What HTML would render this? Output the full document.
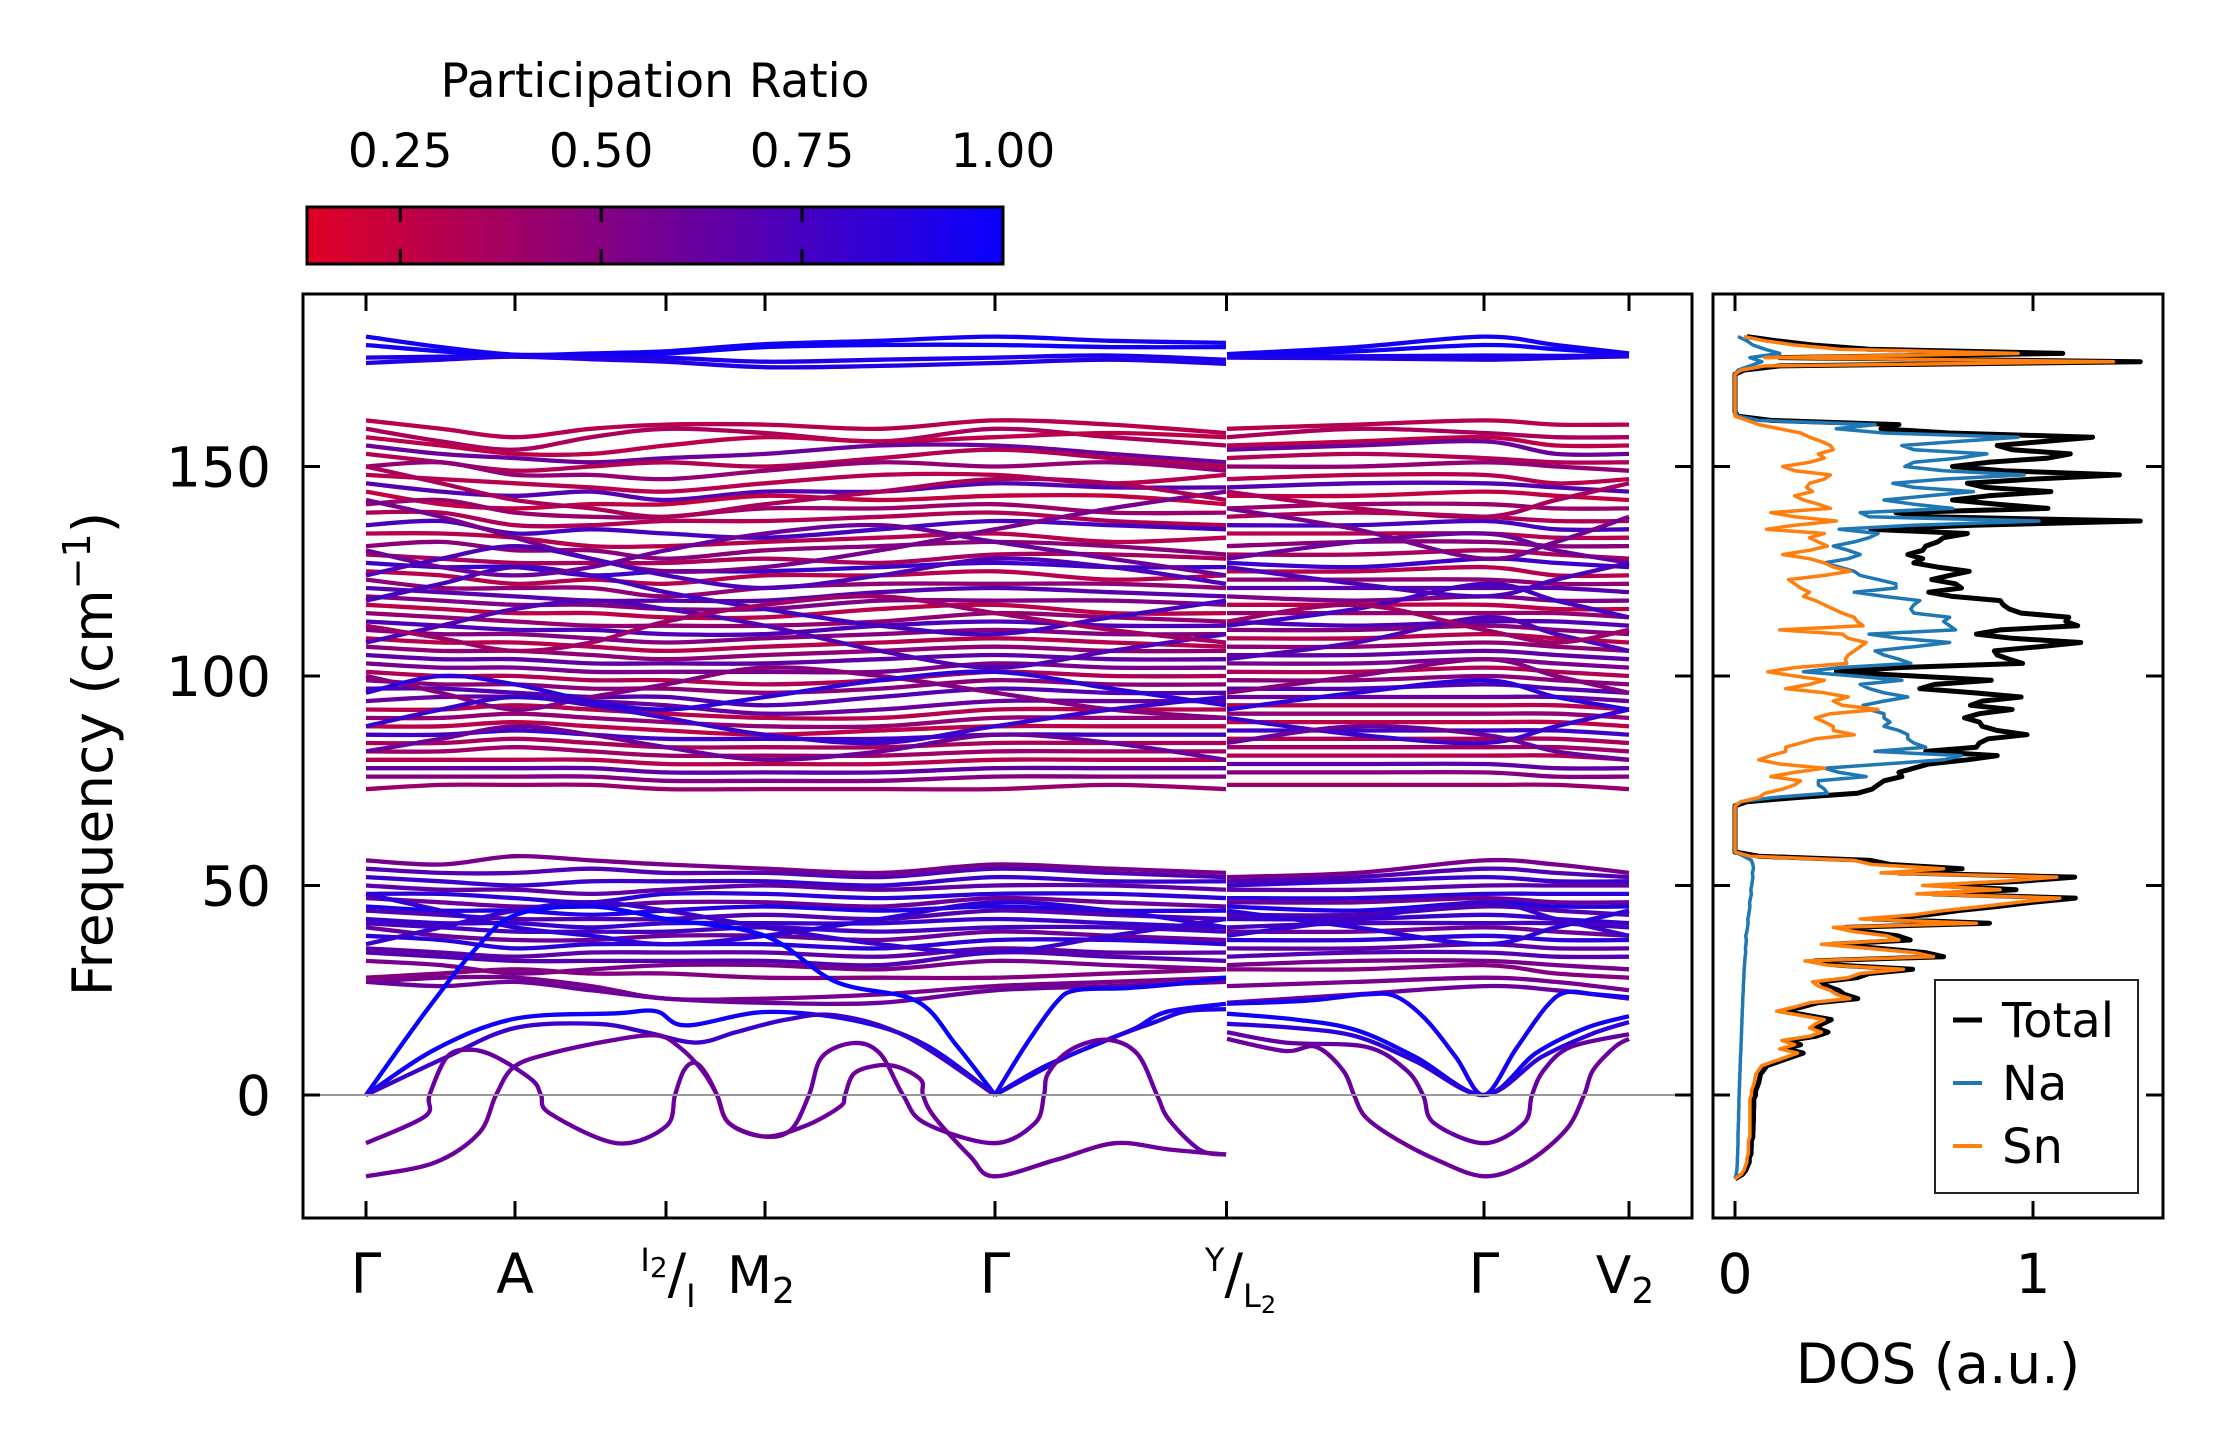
<!DOCTYPE html>
<html><head><meta charset="utf-8"><style>
html,body{margin:0;padding:0;background:#fff;}
svg{display:block;font-family:"DejaVu Sans","Liberation Sans",sans-serif;}
</style></head><body>
<svg id="fig" width="2222" height="1455" viewBox="0 0 2222 1455" xmlns="http://www.w3.org/2000/svg">
<defs>
<linearGradient id="cmap" x1="0" x2="1" y1="0" y2="0">
<stop offset="0" stop-color="rgb(224,0,36)"/><stop offset="1" stop-color="rgb(8,0,255)"/>
</linearGradient>
<clipPath id="mainClip"><rect x="303" y="294" width="1389" height="924"/></clipPath>
<clipPath id="dosClip"><rect x="1713" y="294" width="450" height="924"/></clipPath>
</defs>
<g>
<text x="655" y="97" font-size="47" text-anchor="middle">Participation Ratio</text>
<rect x="307" y="207" width="696" height="57" fill="url(#cmap)" stroke="#000" stroke-width="3"/>
<g id="cbTicks"></g>
</g>
<g id="bands" clip-path="url(#mainClip)"></g>
<line x1="303" y1="1095" x2="1692" y2="1095" stroke="#999" stroke-width="2"/>
<g id="dos" clip-path="url(#dosClip)"></g>
<rect x="303" y="294" width="1389" height="924" fill="none" stroke="#000" stroke-width="3"/>
<rect x="1713" y="294" width="450" height="924" fill="none" stroke="#000" stroke-width="3"/>
<g id="axes"></g>
<text transform="translate(112,754) rotate(-90)" font-size="55" text-anchor="middle">Frequency (cm<tspan font-size="38" dy="-22">−1</tspan><tspan dy="22">)</tspan></text>
<text x="1938" y="1383" font-size="55" text-anchor="middle">DOS (a.u.)</text>
<g>
<rect x="1935" y="980" width="203" height="213" fill="#fff" stroke="#222" stroke-width="2"/>
<line x1="1953" y1="1020" x2="1982" y2="1020" stroke="#000" stroke-width="5"/>
<text x="2002" y="1037" font-size="48">Total</text>
<line x1="1953" y1="1083" x2="1982" y2="1083" stroke="#1f77b4" stroke-width="4"/>
<text x="2002" y="1100" font-size="48">Na</text>
<line x1="1953" y1="1146" x2="1982" y2="1146" stroke="#ff7f0e" stroke-width="4"/>
<text x="2002" y="1163" font-size="48">Sn</text>
</g>
</svg>
<script>
const cbTickValues=[0.25,0.5,0.75,1.0];
const cbTickLabels=["0.25","0.50","0.75","1.00"];
const yTickValues=[0,50,100,150];
const yTickLabels=["0","50","100","150"];
const kTickValues=[0,149,300,399,629,860.5,1118,1263];
const kTickLabels=["Γ","A","I2/I","M2","Γ","Y/L2","Γ","V2"];
const dosTickValues=[0,1];
const dosTickLabels=["0","1"];
const kSeg1=[0,75,149,225,300,399,514,629,745,860];
const kSeg2=[861,990,1118,1190,1263];
const topBands=[
[181,178.5,176.7,177,177.5,179.2,180,181,180,179.5, 176.8,178.5,181,179,177],
[179,177.5,176.5,176.8,177,178.5,179,179,178.5,178.5, 176.5,177.5,179,178,176.8],
[176,176.2,176.3,176.1,176,175,175.5,176,176.5,175.5, 176.2,176.3,176.5,176.4,176.5],
[174.7,175.5,176.2,175.6,175,173.7,174,174.7,175.5,174.5, 176,175.8,175.5,175.9,176.3]];
const topPR=[0.95,0.97,0.92,0.9];
const upperBands=[
[161,159,157,159,160,160,159,161,160,158, 159,160,161,160,160],
[159,156,154,157,159,158,156,159,157,155, 157,159,158,157,157],
[157,155,153,153,155,157,156,157,158,157, 155,156,157,155,155],
[155,153,152,151,152,153,155,155,153,151, 154,155,156,153,153],
[153,151,149,150,151,150,152,154,152,150, 152,153,152,151,151],
[150,151,148,148,147,149,151,150,151,149, 150,150,151,150,149],
[148,147,146,145,144,146,148,148,146,148, 147,148,148,146,147],
[146,144,143,144,142,144,144,146,145,145, 145,146,146,145,144],
[144,141,140,141,141,143,142,143,143,141, 143,143,144,143,142],
[141,142,139,138,138,140,140,141,139,139, 140,141,141,140,140],
[139,139,136,136,137,137,138,139,137,136, 138,139,138,137,137],
[136,137,134,135,134,133,135,137,136,135, 136,136,137,135,135],
[134,134,133,131,131,132,133,134,132,133, 134,134,134,133,133],
[131,132,130,130,128,130,131,132,131,129, 131,132,132,131,131],
[129,128,127,127,127,128,127,129,129,128, 129,129,130,129,128],
[127,126,126,124,125,125,126,127,126,126, 127,126,128,127,126],
[125,124,122,123,122,124,124,125,123,124, 125,125,126,124,124],
[123,121,121,121,119,121,122,122,122,121, 123,123,123,122,122],
[121,120,119,118,118,118,120,121,120,119, 121,121,121,121,120],
[119,118,117,117,116,116,118,118,118,117, 119,118,119,118,118],
[117,116,115,115,114,114,116,117,115,115, 117,117,117,116,116],
[115,114,113,112,112,112,113,115,114,113, 115,115,115,115,114],
[113,112,111,111,110,110,112,113,112,112, 113,112,113,113,112],
[111,110,110,109,108,109,110,111,110,110, 111,111,112,111,110],
[109,108,108,107,106,107,108,109,108,107, 109,109,110,109,108],
[107,106,106,105,104,105,106,107,106,106, 107,107,108,107,106],
[105,104,104,103,103,103,104,105,104,104, 105,105,106,105,104],
[103,102,102,101,101,101,101,103,102,102, 103,103,104,103,102],
[101,100,100,99,99,98,99,101,100,100, 101,101,102,101,100],
[99,98,98,97,97,96,97,99,98,98, 99,99,100,99,98],
[97,97,96,95,95,93,95,97,96,96, 97,97,98,97,96],
[94,95,95,94,93,91,92,94,94,94, 95,95,95,95,94],
[92,92,93,92,91,90,90,92,92,92, 93,93,93,93,92],
[90,90,91,90,89,88,88,90,90,90, 91,91,91,91,90],
[88,88,89,88,87,86,87,88,88,88, 89,89,89,89,88],
[86,86,87,86,85,85,85,86,86,86, 87,87,87,87,86],
[84,84,85,84,83,83,83,84,84,84, 85,85,85,85,84],
[82,82,83,82,81,81,81,82,82,82, 83,83,83,83,82],
[80,80,80,80,79,79,79,80,80,80, 81,81,81,81,80],
[78,78,78,78,77,77,77,78,78,78, 79,79,79,78,78],
[76,76,76,76,75,75,75,76,76,76, 77,77,77,76,76],
[73,74,74,74,73,73,73,73,74,73, 74,74,74,74,73],
[142,138,133,128,125,126,130,135,140,144, 140,135,128,132,138],
[118,122,126,124,120,116,112,110,114,118, 112,116,122,118,114],
[100,96,92,95,98,102,100,96,92,90, 96,100,104,100,96],
[88,92,95,93,90,86,84,88,92,95, 90,86,84,88,92],
[150,146,142,140,138,141,144,147,146,142, 144,140,138,142,146],
[108,112,116,118,116,112,106,102,106,110, 104,108,114,110,106],
[130,126,124,126,130,134,136,132,128,124, 128,132,134,130,127],
[124,128,131,128,124,121,124,128,126,122, 126,122,119,123,127],
[96,100,98,94,92,95,99,101,97,93, 92,96,99,95,92],
[112,109,106,108,113,117,119,115,111,108, 113,117,111,108,111],
[82,85,88,86,83,80,82,86,84,80, 84,88,86,82,80]];
const upperPR=[0.3,0.35,0.28,0.6,0.32,0.45,0.3,0.7,0.25,0.42,0.33,0.75,0.3,0.48,0.36,0.8,0.3,0.45,0.68,0.52,0.28,0.44,0.72,0.5,0.3,0.46,0.65,0.55,0.32,0.48,0.7,0.62,0.3,0.45,0.28,0.78,0.35,0.4,0.3,0.65,0.5,0.42,0.55,0.75,0.5,0.8,0.35,0.7,0.6,0.72,0.85,0.4,0.6];
const midBands=[
[56,55,57,56,55,54,53,55,54,53, 52,53,56,55,53],
[54,53,53,54,53,53,52,54,53,52, 51,52,54,53,52],
[52,51,50,51,51,51,50,52,51,51, 50,51,52,51,51],
[50,49,49,48,49,50,49,50,50,49, 49,49,50,50,50],
[48,48,47,46,48,48,47,48,48,47, 47,47,48,48,48],
[47,46,45,45,46,46,45,47,46,45, 46,46,47,46,46],
[45,44,44,43,44,45,44,45,44,44, 45,44,46,45,45],
[44,43,42,42,42,43,42,44,43,42, 43,43,45,44,43],
[42,41,41,40,41,41,41,42,41,40, 42,42,43,42,41],
[41,40,39,39,39,40,39,40,40,39, 40,41,41,41,40],
[40,38,37,37,38,38,37,39,38,37, 39,39,40,39,38],
[38,37,35,36,36,36,35,37,37,36, 37,37,38,37,37],
[35,34,33,34,34,34,33,35,34,34, 35,35,36,35,35],
[34,33,32,32,32,32,31,34,33,32, 33,34,34,33,33],
[32,31,29,30,31,31,30,32,31,30, 31,32,32,31,30],
[28,29,30,29,29,28,28,28,29,30, 30,30,31,29,28],
[27,28,28,26,23,23,24,26,27,28, 26,27,28,27,25],
[27,26,27,25,23,22,22,25,26,27, 22,24,26,25,23],
[48,44,40,38,36,38,42,46,44,40, 44,40,36,40,44],
[36,40,44,46,44,40,36,34,38,42, 38,42,46,42,38]];
const midPR=[0.55,0.7,0.8,0.65,0.85,0.6,0.9,0.7,0.8,0.75,0.6,0.85,0.65,0.7,0.55,0.5,0.55,0.6,0.85,0.8];
const acoustic1=[[0,0],[60,20],[110,35],[150,43],[225,45],[300,42],[399,38],[470,27],[550,22.5],[590,12],[629,0]];
const acoustic2=[[0,0],[70,11],[149,18.2],[250,19.5],[290,20],[320,16.6],[399,19.8],[488,17.8],[559,12],[629,0]];
const acoustic3=[[0,0],[80,9],[149,16],[230,17],[280,15],[330,12.5],[370,15],[420,18],[470,19],[540,14],[629,0]];
const acoustic4=[[629,0],[660,12],[690,22],[710,25],[760,25.5],[810,26.5],[860,28]];
const acoustic5=[[629,0],[680,7],[740,13],[770,16],[800,19.8],[860,21.8]];
const acoustic6=[[629,0],[700,9],[750,14],[790,17.5],[820,20],[860,20.5]];
const acoustic7=[[861,21.8],[940,22.5],[1000,24],[1030,23.5],[1060,18],[1090,9],[1118,0],[1150,11],[1180,21],[1200,24.5],[1230,24],[1263,23.3]];
const acoustic8=[[861,19.4],[930,18],[990,15.5],[1050,9],[1118,0],[1170,10],[1220,16],[1263,18.8]];
const acoustic9=[[861,17],[930,16],[990,14],[1050,8],[1118,0],[1175,9],[1225,14.5],[1263,17.4]];
const softA=[[0,-11.5],[59,-5.1],[63.5,0],[81,9.1],[104,10.8],[130,9.1],[166,3.6],[175,0],[184,-4.4],[251,-11.5],[300,-7.5],[309,0],[318,5.9],[329,7.7],[340,5.1],[351,0],[363,-6.7],[398,-9.9],[425,-8.3],[443,0],[456,9.1],[488,12.4],[514,9.9],[537,0],[559,-6.7],[628,-11.5],[669,-6.7],[678,0],[682,5.1],[704,10.7],[740,13.2],[771,9.9],[791,0],[803,-5.9],[834,-13.1],[860,-14.2]];
const softB=[[0,-19.4],[68,-16.2],[113,-9.1],[130,0],[148,6.7],[184,9.9],[247,13.1],[291,14.2],[313,11.5],[336,5.9],[351,0],[363,-6.7],[398,-9.9],[438,-7.5],[474,-2.8],[479,0],[488,5.1],[510,7],[532,6.7],[555,3.6],[557,0],[568,-5.1],[604,-14.6],[628,-19.4],[691,-15.4],[749,-11.5],[803,-13],[860,-14.2]];
const softE=[[861,13.4],[919,10.5],[950,11.5],[977,5.9],[988,0],[999,-5.1],[1026,-9.9],[1070,-15.4],[1118,-19.4],[1160,-16.2],[1200,-8.3],[1218,0],[1227,5.9],[1249,11.5],[1263,13.4]];
const softF=[[861,15],[920,12.5],[1000,11.5],[1040,6],[1057,0],[1068,-6.7],[1118,-11.5],[1158,-6.7],[1166,0],[1178,6],[1205,11.5],[1263,14.5]];
const acousticBands=[acoustic1,acoustic2,acoustic3,acoustic4,acoustic5,acoustic6,acoustic7,acoustic8,acoustic9];
const acousticPR=[1,0.97,0.8,0.97,0.95,0.9,0.95,0.97,0.85];
const softBands=[softA,softB,softE,softF];
const softPR=[0.62,0.6,0.6,0.63];
const dosFreqStart=-20;
const dosFreqStep=1;
const dosSn=[0,.02,.03,.035,.04,.04,.045,.045,.045,.045,
.05,.05,.05,.05,.05,.05,.05,.05,.05,.05,
.055,.055,.06,.065,.067,.07,.08,.09,.13,.17,
.21,.15,.2,.157,.25,.29,.25,.27,.30,.22,
.14,.2,.25,.386,.34,.32,.28,.26,.38,.42,
.565,.31,.235,.666,.6,.45,.29,.55,.51,.4,
.33,.81,.42,.6,.7,.83,.95,1.09,.61,.89,
.63,.9,1.08,.49,.70,.46,.4,.05,0,0,
0,0,0,0,0,0,0,0,0,0,
.02,.08,.1,.16,.2,.22,.12,.2,.3,.15,
.08,.12,.17,.17,.22,.27,.4,.33,.33,.3,
.27,.32,.48,.36,.33,.38,.3,.17,.25,.3,
.2,.11,.2,.375,.37,.38,.4,.42,.44,.38,
.36,.15,.43,.41,.4,.36,.33,.3,.27,.23,
.25,.22,.2,.18,.3,.386,.33,.3,.25,.16,
.25,.31,.28,.25,.3,.106,.2,.34,.2,.12,
.32,.28,.23,.2,.26,.24,.25,.3,.32,.2,
.16,.25,.3,.28,.33,.32,.29,.25,.22,.15,
.08,.04,0,0,0,0,0,0,0,0,
0,0,0,.02,.1,1.27,.1,.95,.35,.2,
.1,.03];
const dosNa=[0,.004,.006,.007,.008,.008,.009,.009,.01,.01,
.01,.01,.011,.011,.012,.012,.012,.013,.013,.013,
.014,.014,.015,.015,.016,.016,.017,.017,.018,.018,
.019,.02,.02,.021,.021,.022,.022,.023,.023,.024,
.024,.025,.026,.026,.027,.028,.028,.029,.03,.03,
.031,.032,.033,.034,.036,.035,.037,.038,.036,.04,
.042,.044,.043,.046,.048,.05,.049,.052,.055,.053,
.056,.058,.06,.058,.062,.06,.055,.03,0,0,
0,0,0,0,0,0,0,0,0,0,
.02,.13,.31,.3,.28,.28,.44,.35,.3,.5,
.7,.76,.47,.64,.6,.58,.58,.55,.5,.52,
.5,.5,.45,.43,.5,.58,.5,.45,.42,.56,
.4,.23,.35,.59,.55,.5,.47,.6,.72,.55,
.45,.74,.72,.7,.72,.6,.59,.6,.62,.5,
.4,.54,.54,.48,.42,.4,.35,.3,.38,.42,
.38,.33,.4,.45,.48,.35,.6,1.02,.45,.42,
.73,.6,.5,.65,.8,.6,.53,.7,.97,.7,
.57,.6,.75,.845,.6,.56,.75,.95,.5,.34,
.47,.08,.01,0,0,0,0,0,0,0,
0,0,0,.01,.05,.09,.05,.15,.1,.06,
.04,.01];
const dosTotal=[0,.024,.036,.042,.048,.048,.054,.054,.055,.055,
.06,.06,.061,.061,.062,.062,.062,.063,.063,.063,
.069,.069,.075,.08,.083,.086,.097,.107,.148,.188,
.229,.17,.22,.178,.271,.312,.272,.293,.323,.244,
.164,.225,.276,.412,.367,.348,.308,.289,.41,.45,
.596,.342,.268,.70,.636,.485,.327,.588,.546,.44,
.372,.854,.463,.646,.748,.88,.999,1.142,.665,.943,
.686,.958,1.14,.548,.762,.52,.455,.08,0,0,
0,0,0,0,0,0,0,0,0,0,
.04,.21,.41,.46,.48,.5,.56,.55,.6,.65,
.78,.88,.64,.81,.82,.85,.98,.88,.83,.82,
.77,.82,.93,.79,.83,.96,.8,.62,.67,.86,
.6,.34,.55,.965,.92,.88,.87,1.02,1.16,.93,
.81,.89,1.15,1.11,1.12,.96,.92,.9,.89,.73,
.65,.76,.74,.66,.72,.786,.68,.6,.63,.58,
.63,.64,.68,.7,.78,.456,.8,1.36,.65,.54,
1.05,.88,.73,.85,1.06,.84,.78,1.0,1.29,.9,
.73,.85,1.05,1.125,.93,.88,1.04,1.2,.72,.49,
.55,.12,.01,0,0,0,0,0,0,0,
0,0,0,.03,.15,1.36,.15,1.1,.45,.26,
.14,.04];

const NS="http://www.w3.org/2000/svg";
const kx=k=>366+k*(1629-366)/1263;
const fy=f=>1095-f*4.19;
const dx=v=>1735+v*298;
const cbx=v=>307+(v-0.134)*(1003-307)/(1-0.134);
function prColor(p){const t=Math.max(0,Math.min(1,(p-0.134)/(1-0.134)));
return `rgb(${Math.round(224+(8-224)*t)},0,${Math.round(36+(255-36)*t)})`;}
function mk(tag,attrs,parent){const e=document.createElementNS(NS,tag);for(const a in attrs)e.setAttribute(a,attrs[a]);parent.appendChild(e);return e;}
function smoothPath(pts){
 let d=`M${pts[0][0].toFixed(1)},${pts[0][1].toFixed(1)}`;
 for(let i=0;i<pts.length-1;i++){
  const p0=pts[Math.max(0,i-1)],p1=pts[i],p2=pts[i+1],p3=pts[Math.min(pts.length-1,i+2)];
  const c1x=p1[0]+(p2[0]-p0[0])/6,c1y=p1[1]+(p2[1]-p0[1])/6;
  const c2x=p2[0]-(p3[0]-p1[0])/6,c2y=p2[1]-(p3[1]-p1[1])/6;
  d+=` C${c1x.toFixed(1)},${c1y.toFixed(1)} ${c2x.toFixed(1)},${c2y.toFixed(1)} ${p2[0].toFixed(1)},${p2[1].toFixed(1)}`;
 }
 return d;
}
const bandsG=document.getElementById('bands');
function drawBand(pts,pr,name){
 const p=mk('path',{d:smoothPath(pts.map(q=>[kx(q[0]),fy(q[1])])),fill:'none',stroke:prColor(pr),'stroke-width':4.3,'stroke-linejoin':'round'},bandsG);
 
 
}
function drawDense(rows,prs,prefix){
 rows.forEach((r,i)=>{
  const s1=kSeg1.map((k,j)=>[k,r[j]]);
  const s2=kSeg2.map((k,j)=>[k,r[kSeg1.length+j]]);
  drawBand(s1,prs[i],prefix+'-'+i+'-seg1');
  drawBand(s2,prs[i],prefix+'-'+i+'-seg2');
 });
}
drawDense(upperBands,upperPR,'optical-band');
drawDense(midBands,midPR,'mid-band');
drawDense(topBands,topPR,'top-band');
acousticBands.forEach((b,i)=>drawBand(b,acousticPR[i],'acoustic-branch-'+i));
softBands.forEach((b,i)=>drawBand(b,softPR[i],'soft-mode-'+i));

const dosG=document.getElementById('dos');
function drawDos(arr,color,w,name){
 const d=arr.map((v,i)=>(i?'L':'M')+dx(v).toFixed(1)+','+fy(dosFreqStart+i*dosFreqStep).toFixed(1)).join(' ');
 const p=mk('path',{d:d,fill:'none',stroke:color,'stroke-width':w,'stroke-linejoin':'round'},dosG);
 
 
}
drawDos(dosTotal,'#000',5,'dos-total-line');
drawDos(dosNa,'#1f77b4',3.5,'dos-na-line');
drawDos(dosSn,'#ff7f0e',3.5,'dos-sn-line');

const ax=document.getElementById('axes');
const TL=17;
yTickValues.forEach((v,i)=>{
 const y=fy(v);
 [[303,303+TL],[1692,1692-TL],[1713,1713+TL],[2163,2163-TL]].forEach(xs=>{
  const l=mk('line',{x1:xs[0],x2:xs[1],y1:y,y2:y,stroke:'#000','stroke-width':3},ax);
  
  
 });
 const t=mk('text',{x:271,y:y+20,'font-size':55,'text-anchor':'end'},ax);
 t.textContent=yTickLabels[i];
 
 
});
kTickValues.forEach((k,i)=>{
 const x=kx(k);
 [[1218,1218-TL],[294,294+TL]].forEach(ys=>{
  const l=mk('line',{x1:x,x2:x,y1:ys[0],y2:ys[1],stroke:'#000','stroke-width':3},ax);
  
  
 });
 const lab=kTickLabels[i];
 const t=mk('text',{x:x,y:1293,'font-size':55,'text-anchor':'middle'},ax);
 
 
 if(lab==='M2'||lab==='V2'){
  t.setAttribute('font-size',52);
  t.textContent=lab[0];
  const s=mk('tspan',{'font-size':36,dy:10},t);s.textContent='2';
  t.setAttribute('x',x-4);
 }else if(lab==='I2/I'){
  t.setAttribute('x',x+2);
  const a=mk('tspan',{'font-size':32,dy:-22},t);a.textContent='I';
  const b=mk('tspan',{'font-size':28,dy:6},t);b.textContent='2';
  const c=mk('tspan',{'font-size':55,dy:16},t);c.textContent='/';
  const d=mk('tspan',{'font-size':32,dy:14},t);d.textContent='I';
 }else if(lab==='Y/L2'){
  t.setAttribute('x',x+14);
  const a=mk('tspan',{'font-size':32,dy:-22},t);a.textContent='Y';
  const c=mk('tspan',{'font-size':55,dy:22},t);c.textContent='/';
  const d=mk('tspan',{'font-size':32,dy:14},t);d.textContent='L';
  const e=mk('tspan',{'font-size':24,dy:6},t);e.textContent='2';
 }else t.textContent=lab;
});
dosTickValues.forEach((v,i)=>{
 const x=dx(v);
 [[1218,1218-TL],[294,294+TL]].forEach(ys=>{
  const l=mk('line',{x1:x,x2:x,y1:ys[0],y2:ys[1],stroke:'#000','stroke-width':3},ax);
  
  
 });
 const t=mk('text',{x:x,y:1293,'font-size':55,'text-anchor':'middle'},ax);
 t.textContent=dosTickLabels[i];
 
 
});
const cbG=document.getElementById('cbTicks');
cbTickValues.forEach((v,i)=>{
 const x=cbx(v);
 if(v<1){
  const l1=mk('line',{x1:x,x2:x,y1:207,y2:222,stroke:'#000','stroke-width':3},cbG);
  
  
  const l2=mk('line',{x1:x,x2:x,y1:249,y2:264,stroke:'#000','stroke-width':3},cbG);
  
  
 }
 const t=mk('text',{x:x,y:167,'font-size':47,'text-anchor':'middle'},cbG);
 t.textContent=cbTickLabels[i];
 
 
});
</script>
</body></html>
